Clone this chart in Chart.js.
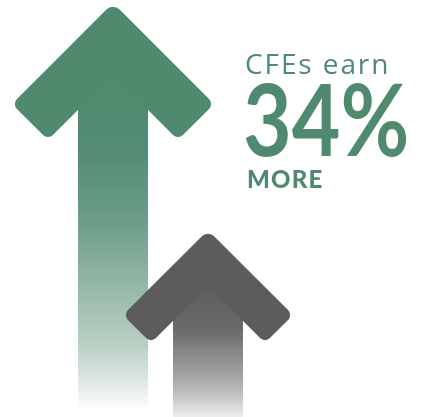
<!DOCTYPE html>
<html>
<head>
<meta charset="utf-8">
<script src="https://cdn.jsdelivr.net/npm/chart.js@4.4.1/dist/chart.umd.min.js"></script>
<style>
  html, body { margin: 0; padding: 0; background: #fff; }
  #wrap { position: relative; width: 430px; height: 417px; overflow: hidden; }
  #chart { position: absolute; left: 0; top: 0; }
  .txt { position: absolute; color: #4f8a6f; font-family: Lato, sans-serif; line-height: 1; white-space: nowrap; transform-origin: 0 0; }
  #t1 { left: 245px; top: 49px; font-size: 28px; font-weight: 400; font-family: "Open Sans", sans-serif; letter-spacing: 1.9px; }
  #t2 { left: 243px; top: 67px; font-size: 100px; font-weight: 700; transform: scaleX(0.84); }
  #t3 { left: 247px; top: 167px; font-size: 24px; font-weight: 900; letter-spacing: 1.2px; }
</style>
</head>
<body>
<div id="wrap">
  <canvas id="chart" width="430" height="417"></canvas>
  <div class="txt" id="t1">CFEs earn</div>
  <div class="txt" id="t2">34%</div>
  <div class="txt" id="t3">MORE</div>
</div>
<script>
// relative earnings, non-CFE = 100
const categories = ["CFEs", "Non-CFEs"];
const earnings = [134, 100];
const axisMin = 72.3;
const axisMax = 134;

// look of each arrow (head size, chevron depth, shaft fade)
const arrowStyles = [
  {
    rgb: [79, 138, 111], half: 101, depth: 36,
    // [y, share of white]
    fade: [[75, 0], [150, 0.02], [225, 0.18], [345, 0.6], [380, 0.8], [410, 1], [417, 1]]
  },
  {
    rgb: [94, 91, 92], half: 85, depth: 28,
    fade: [[286, 0], [300, 0.03], [330, 0.09], [380, 0.47], [400, 0.69], [417, 0.9]]
  }
];

function mix(rgb, w) {
  const c = rgb.map(v => Math.round(v + (255 - v) * w));
  return "rgb(" + c.join(",") + ")";
}

function roundPoly(ctx, pts) {
  const n = pts.length;
  ctx.beginPath();
  const first = pts[0], last = pts[n - 1];
  ctx.moveTo((first[0] + last[0]) / 2, (first[1] + last[1]) / 2);
  for (let i = 0; i < n; i++) {
    const p = pts[i], q = pts[(i + 1) % n];
    if (p[2]) ctx.arcTo(p[0], p[1], q[0], q[1], p[2]);
    else ctx.lineTo(p[0], p[1]);
  }
  ctx.closePath();
}

const arrowPlugin = {
  id: "arrows",
  afterDatasetsDraw(chart) {
    const ctx = chart.ctx;
    chart.getDatasetMeta(0).data.forEach((bar, i) => {
      const st = arrowStyles[i];
      const cx = bar.x, top = bar.y, base = bar.base, w = bar.width / 2;
      const H = st.half, d = st.depth;
      const vY = top + 2 * d;

      // shaft
      const g = ctx.createLinearGradient(0, vY, 0, base);
      st.fade.forEach(([y, f]) => {
        const t = Math.min(1, Math.max(0, (y - vY) / (base - vY)));
        g.addColorStop(t, mix(st.rgb, f));
      });
      ctx.save();
      ctx.fillStyle = g;
      ctx.fillRect(cx - w, vY - 2, 2 * w, base - vY + 2);

      // chevron head
      ctx.fillStyle = mix(st.rgb, 0);
      roundPoly(ctx, [
        [cx, top, 9],
        [cx + H, top + H, 7],
        [cx + H - d, top + H + d, 7],
        [cx, vY, 0],
        [cx - H + d, top + H + d, 7],
        [cx - H, top + H, 7]
      ]);
      ctx.fill();
      ctx.restore();
    });
  }
};

new Chart(document.getElementById("chart"), {
  type: "bar",
  data: {
    labels: categories,
    datasets: [{
      data: earnings,
      backgroundColor: "rgba(0,0,0,0)",
      borderWidth: 0,
      barThickness: 70
    }]
  },
  options: {
    responsive: false,
    animation: false,
    devicePixelRatio: 1,
    layout: { padding: { left: 65.5, right: 174.5, top: 3, bottom: 2 } },
    plugins: { legend: { display: false }, tooltip: { enabled: false } },
    scales: {
      x: { display: false },
      y: { display: false, min: axisMin, max: axisMax }
    }
  },
  plugins: [arrowPlugin]
});
</script>
</body>
</html>
